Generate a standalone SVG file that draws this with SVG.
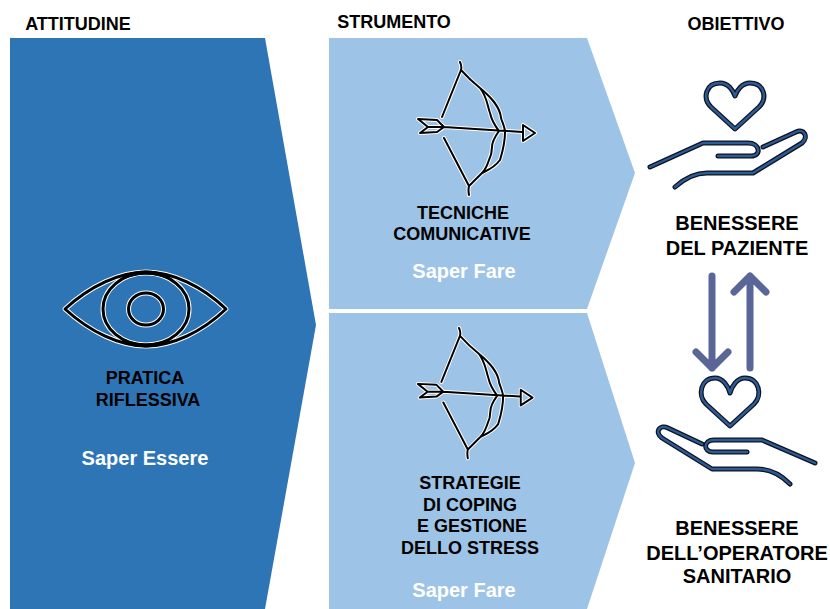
<svg xmlns="http://www.w3.org/2000/svg" xmlns:xlink="http://www.w3.org/1999/xlink" width="830" height="609" viewBox="0 0 830 609">
<style>
text{font-family:"Liberation Sans",Arial,sans-serif;font-weight:700;text-anchor:middle;font-size:18px;fill:#000}
.w{fill:#fff;font-size:20px}
.b{font-size:20px}
.u{fill:none;stroke-linecap:round;stroke-linejoin:round}
.ow{stroke:#fff;stroke-width:4}
.ok{stroke:#000;stroke-width:2}
.ew{stroke:#fff;stroke-width:5}
.ek{stroke:#000;stroke-width:3}
.hk{stroke:#0b1420;stroke-width:5}
.hb{stroke:#2f5a94;stroke-width:2.400}
.ar{fill:none;stroke:#5a6698;stroke-width:7;stroke-linecap:round;stroke-linejoin:round}
</style>
<defs>
<g id="bowShape">
<path d="M460 62 Q462 66 461 70M442 117L461 70C470 80 480 88 480 88C492 98 500 107 501 118C503 124 505 128 505 132C505 144 503 150 500 160C494 168 488 170 482 173L469 186L444 138M469 186Q468 190 469 195M480 88C487 97 487 104 490 113C492 122 496 127 499 131C494 138 492 142 492 147C492 154 490 158 489 160C487 166 485 170 482 173M444 127L522 132M523 125L535 133L523 141ZM418 119L437 120L444 127L437 132L420 133L428 127ZM428 127L444 127"/>
</g>
<g id="eyeShape">
<path d="M65 309C90 286 120 272 146 272C172 272 202 286 226 309C202 332 172 346 146 346C120 346 90 332 65 309Z"/><ellipse cx="146" cy="309" rx="43" ry="36"/><ellipse cx="146" cy="309" rx="17.500" ry="16"/>
</g>
<g id="h1">
<path d="M735 129L711 107C702 98 706 83 720 83C728 83 733 90 735 96C737 90 742 83 750 83C764 83 768 98 759 107Z"/>
<path d="M650 167L703 143L748 143C760 143 762 156 751 156L718 156"/>
<path d="M675 187C684 179 695 173 707 173L753 173L802 143C809 137 804 128 796 132L763 147"/>
</g>
<g id="h2">
<path d="M730 426L706 404C697 395 701 378 715 378C723 378 728 386 730 393C732 386 737 378 745 378C759 378 763 395 754 404Z"/>
<path d="M815 463L762 440L714 440C703 440 703 452 713 452L747 452"/>
<path d="M790 484C781 475 770 469 757 469L712 469L662 438C654 432 660 424 668 428L702 444"/>
</g>
</defs>

<g id="attitudine">
<polygon points="10,38 265,38 316,325 265,609 10,609" fill="#2e75b6"/>
<text x="78" y="30">ATTITUDINE</text>
<g class="u">
<use xlink:href="#eyeShape" class="ew"/><use xlink:href="#eyeShape" class="ek"/>
<path d="M124 277Q146 268 168 277M124 341Q146 350 168 341" stroke="#000" stroke-width="4"/>
</g>
<text x="145" y="384">PRATICA</text>
<text x="148" y="406">RIFLESSIVA</text>
<text class="w" x="145" y="465">Saper Essere</text>
</g>

<g id="tecniche">
<polygon points="329,38 587,38 635,173 587,309 329,309" fill="#9dc3e6"/>
<text x="394" y="28">STRUMENTO</text>
<g class="u"><use xlink:href="#bowShape" class="ow"/><use xlink:href="#bowShape" class="ok"/></g>
<text x="463" y="219">TECNICHE</text>
<text x="462" y="240">COMUNICATIVE</text>
<text class="w" x="464" y="278">Saper Fare</text>
</g>

<g id="strategie">
<polygon points="329,313 587,313 635,463 587,609 329,609" fill="#9dc3e6"/>
<g class="u" transform="translate(8.200 267.240) scale(.98)"><use xlink:href="#bowShape" class="ow"/><use xlink:href="#bowShape" class="ok"/></g>
<text x="470" y="489">STRATEGIE</text>
<text x="470" y="511">DI COPING</text>
<text x="472" y="532">E GESTIONE</text>
<text x="470" y="554">DELLO STRESS</text>
<text class="w" x="464" y="597">Saper Fare</text>
</g>

<g id="paziente">
<text x="736" y="30">OBIETTIVO</text>
<g class="u"><use xlink:href="#h1" class="hk"/><use xlink:href="#h1" class="hb"/></g>
<text class="b" x="737" y="230">BENESSERE</text>
<text class="b" x="737" y="255">DEL PAZIENTE</text>
</g>

<g id="operatore">
<g class="u"><use xlink:href="#h2" class="hk"/><use xlink:href="#h2" class="hb"/></g>
<text class="b" x="737" y="535">BENESSERE</text>
<text class="b" x="737" y="560">DELL’OPERATORE</text>
<text class="b" x="737" y="583">SANITARIO</text>
</g>

<g id="connectors">
<path class="ar" d="M712 276V368M696 352L712 368L728 352"/>
<path class="ar" d="M750 368V276M734 292L750 276L766 292"/>
</g>
</svg>
